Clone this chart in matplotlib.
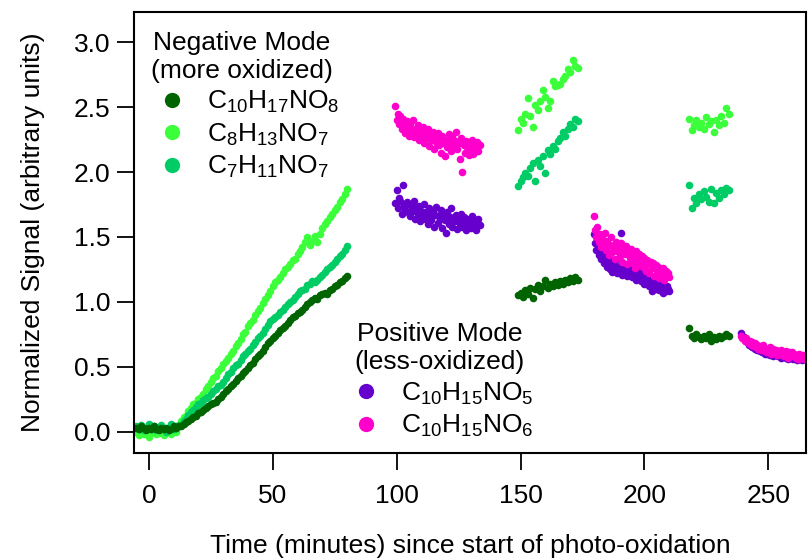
import numpy as np
import matplotlib
matplotlib.use("Agg")
import matplotlib.pyplot as plt
from matplotlib.lines import Line2D

plt.rcParams["font.family"] = ["Liberation Sans", "DejaVu Sans"]
plt.rcParams["mathtext.default"] = "regular"

# --- sampling times (minutes) of each measurement period ---
t_a = np.arange(-5, 81, 1.0)        # negative mode, start of run
t_b = np.arange(99.5, 134.0, 0.5)   # positive mode
t_c = np.arange(149, 174, 1.0)      # negative mode
t_d = np.arange(179.5, 210.5, 0.5)  # positive mode
t_e = np.arange(218, 235, 1.0)      # negative mode
t_f = np.arange(239, 267.5, 0.5)    # positive mode

# --- negative mode (more oxidized) ---
c10h17no8_a = [0.03, 0.02, 0.04, 0.03, 0.01, 0.03, 0.02, 0.04, 0.02, 0.01, 0.03, 0.02, 0.03, 0.01, 0.02, 0.04, 0.03, 0.04,
               0.04, 0.06, 0.07, 0.08, 0.10, 0.11, 0.12, 0.14, 0.15, 0.17,
               0.18, 0.20, 0.21, 0.22, 0.23, 0.25, 0.27, 0.29, 0.31, 0.33,
               0.35, 0.37, 0.39, 0.41, 0.43, 0.45, 0.47, 0.49, 0.51, 0.53,
               0.56, 0.58, 0.60, 0.62, 0.65, 0.68, 0.70, 0.72, 0.74, 0.76,
               0.78, 0.80, 0.81, 0.84, 0.86, 0.88, 0.89, 0.91, 0.92, 0.94,
               0.96, 0.98, 1.00, 1.01, 1.03, 1.02, 1.05, 1.06, 1.07, 1.06,
               1.09, 1.10, 1.12, 1.13, 1.15, 1.16, 1.18, 1.20]
c8h13no7_a = [0.00, -0.03, 0.02, -0.02, 0.01, -0.04, 0.00, 0.03, -0.02, -0.01, 0.02, -0.03, 0.00, 0.01, -0.02, 0.03, 0.00, 0.04,
              0.08, 0.11, 0.12, 0.16, 0.18, 0.21, 0.22, 0.25, 0.27, 0.29,
              0.33, 0.35, 0.38, 0.41, 0.43, 0.47, 0.49, 0.52, 0.54, 0.57,
              0.60, 0.62, 0.66, 0.68, 0.71, 0.75, 0.77, 0.81, 0.84, 0.86,
              0.90, 0.93, 0.95, 0.99, 1.02, 1.05, 1.08, 1.12, 1.15, 1.17,
              1.19, 1.22, 1.25, 1.27, 1.29, 1.32, 1.33, 1.37, 1.39, 1.42,
              1.46, 1.50, 1.44, 1.47, 1.51, 1.46, 1.52, 1.57, 1.60, 1.62,
              1.65, 1.68, 1.71, 1.73, 1.77, 1.79, 1.83, 1.87]
c7h11no7_a = [0.04, 0.02, 0.05, 0.01, 0.03, 0.06, 0.02, 0.04, 0.01, 0.03, 0.05, 0.02, 0.00, 0.03, 0.06, 0.02, 0.04, 0.05,
              0.05, 0.08, 0.10, 0.13, 0.15, 0.17, 0.19, 0.21, 0.22, 0.24,
              0.26, 0.27, 0.29, 0.31, 0.33, 0.35, 0.36, 0.38, 0.41, 0.44,
              0.46, 0.49, 0.51, 0.52, 0.55, 0.58, 0.60, 0.62, 0.64, 0.67,
              0.69, 0.72, 0.74, 0.76, 0.79, 0.82, 0.85, 0.87, 0.88, 0.90,
              0.92, 0.94, 0.96, 0.98, 1.00, 1.01, 1.04, 1.06, 1.08, 1.09,
              1.10, 1.13, 1.14, 1.16, 1.15, 1.17, 1.19, 1.21, 1.23, 1.25,
              1.27, 1.28, 1.31, 1.33, 1.35, 1.37, 1.40, 1.43]

c10h17no8_c = [1.05, 1.07, 1.04, 1.09, 1.06, 1.11, 1.03, 1.10, 1.13, 1.08, 1.12, 1.17, 1.11,
               1.14, 1.12, 1.15, 1.13, 1.16, 1.14, 1.17, 1.15, 1.18, 1.16, 1.19, 1.17]
c8h13no7_c = [2.32, 2.41, 2.38, 2.45, 2.57, 2.43, 2.35, 2.52, 2.48, 2.55, 2.63, 2.58, 2.49,
              2.55, 2.70, 2.66, 2.67, 2.68, 2.72, 2.74, 2.79, 2.77, 2.86, 2.82, 2.80]
c7h11no7_c = [1.89, 1.93, 1.96, 1.99, 1.97, 2.03, 2.07, 1.93, 2.09, 2.05, 2.12, 1.99, 2.17,
              2.14, 2.20, 2.18, 2.24, 2.26, 2.31, 2.28, 2.33, 2.37, 2.35, 2.41, 2.39]

c10h17no8_e = [0.80, 0.74, 0.72, 0.75, 0.73, 0.71, 0.74, 0.72, 0.75, 0.70, 0.73, 0.71, 0.74, 0.72, 0.74, 0.75, 0.74]
c8h13no7_e = [2.41, 2.32, 2.36, 2.40, 2.35, 2.38, 2.33, 2.42, 2.37, 2.39, 2.31, 2.40, 2.36, 2.43, 2.38, 2.49, 2.45]
c7h11no7_e = [1.90, 1.72, 1.80, 1.76, 1.83, 1.79, 1.85, 1.81, 1.77, 1.87, 1.76, 1.84, 1.80, 1.86, 1.83, 1.88, 1.86]

# --- positive mode (less oxidized) ---
c10h15no5_b = [1.76, 1.86, 1.72, 1.80, 1.78, 1.68, 1.90, 1.74, 1.71, 1.77,
               1.69, 1.75, 1.66, 1.73, 1.70, 1.78, 1.64, 1.72, 1.68, 1.74,
               1.62, 1.70, 1.67, 1.75, 1.64, 1.69, 1.60, 1.72, 1.66, 1.63,
               1.70, 1.58, 1.67, 1.73, 1.61, 1.66, 1.64, 1.71, 1.57, 1.68,
               1.63, 1.53, 1.69, 1.60, 1.65, 1.72, 1.58, 1.64, 1.62, 1.67,
               1.56, 1.63, 1.60, 1.68, 1.58, 1.65, 1.61, 1.55, 1.64, 1.59,
               1.62, 1.57, 1.66, 1.60, 1.63, 1.55, 1.61, 1.64, 1.59]
c10h15no6_b = [2.51, 2.40, 2.45, 2.37, 2.43, 2.33, 2.41, 2.36, 2.30, 2.39,
               2.34, 2.28, 2.37, 2.31, 2.40, 2.27, 2.33, 2.29, 2.36, 2.25,
               2.32, 2.27, 2.35, 2.22, 2.30, 2.26, 2.33, 2.20, 2.29, 2.25,
               2.31, 2.18, 2.27, 2.23, 2.30, 2.21, 2.26, 2.15, 2.28, 2.22,
               2.12, 2.25, 2.19, 2.29, 2.23, 2.16, 2.27, 2.20, 2.24, 2.31,
               2.18, 2.22, 2.10, 2.26, 2.00, 2.21, 2.15, 2.24, 2.19, 2.13,
               2.22, 2.17, 2.25, 2.14, 2.20, 2.18, 2.23, 2.16, 2.21]

c10h15no5_d = [1.52, 1.45, 1.40, 1.47, 1.36, 1.42, 1.33, 1.38, 1.30, 1.35,
               1.31, 1.27, 1.34, 1.25, 1.30, 1.23, 1.28, 1.25, 1.32, 1.22,
               1.27, 1.24, 1.53, 1.21, 1.26, 1.23, 1.29, 1.20, 1.25, 1.22,
               1.24, 1.19, 1.27, 1.21, 1.17, 1.23, 1.20, 1.25, 1.16, 1.22,
               1.18, 1.14, 1.21, 1.16, 1.19, 1.12, 1.17, 1.08, 1.15, 1.13,
               1.10, 1.16, 1.12, 1.09, 1.14, 1.11, 1.07, 1.13, 1.08, 1.12,
               1.10, 1.08]
c10h15no6_d = [1.66, 1.55, 1.50, 1.58, 1.46, 1.52, 1.42, 1.49, 1.44, 1.53,
               1.40, 1.47, 1.36, 1.44, 1.50, 1.38, 1.43, 1.33, 1.46, 1.39,
               1.42, 1.35, 1.45, 1.31, 1.40, 1.37, 1.43, 1.29, 1.38, 1.34,
               1.41, 1.30, 1.36, 1.26, 1.39, 1.33, 1.28, 1.37, 1.31, 1.35,
               1.27, 1.34, 1.24, 1.32, 1.29, 1.22, 1.31, 1.26, 1.30, 1.20,
               1.28, 1.23, 1.27, 1.18, 1.25, 1.21, 1.26, 1.17, 1.24, 1.20,
               1.22, 1.19]

c10h15no5_f = [0.76, 0.74, 0.73, 0.71, 0.70, 0.69, 0.67, 0.68, 0.66, 0.65,
               0.66, 0.64, 0.65, 0.63, 0.64, 0.62, 0.63, 0.61, 0.62, 0.60,
               0.62, 0.60, 0.61, 0.59, 0.62, 0.60, 0.58, 0.61, 0.59, 0.60,
               0.58, 0.60, 0.57, 0.59, 0.58, 0.60, 0.57, 0.58, 0.56, 0.59,
               0.57, 0.58, 0.56, 0.58, 0.57, 0.55, 0.58, 0.56, 0.57, 0.55,
               0.57, 0.56, 0.58, 0.55, 0.57, 0.56, 0.55]
c10h15no6_f = [0.74, 0.72, 0.71, 0.70, 0.72, 0.69, 0.68, 0.70, 0.67, 0.69,
               0.66, 0.68, 0.65, 0.67, 0.64, 0.66, 0.63, 0.65, 0.67, 0.62,
               0.64, 0.61, 0.63, 0.65, 0.60, 0.62, 0.64, 0.61, 0.63, 0.59,
               0.62, 0.60, 0.63, 0.59, 0.61, 0.58, 0.62, 0.60, 0.57, 0.61,
               0.59, 0.61, 0.58, 0.60, 0.57, 0.59, 0.56, 0.60, 0.58, 0.57,
               0.59, 0.56, 0.58, 0.57, 0.59, 0.56, 0.58]

neg_labels = [r"C$_{10}$H$_{17}$NO$_{8}$", r"C$_{8}$H$_{13}$NO$_{7}$", r"C$_{7}$H$_{11}$NO$_{7}$"]
pos_labels = [r"C$_{10}$H$_{15}$NO$_{5}$", r"C$_{10}$H$_{15}$NO$_{6}$"]
col_dark, col_light, col_teal = "#006400", "#3cff3c", "#00cc66"
col_purple, col_magenta = "#6600cc", "#ff00cc"

t_neg = np.concatenate([t_a, t_c, t_e])
t_pos = np.concatenate([t_b, t_d, t_f])
neg = {
    "c10h17no8": np.concatenate([c10h17no8_a, c10h17no8_c, c10h17no8_e]),
    "c8h13no7": np.concatenate([c8h13no7_a, c8h13no7_c, c8h13no7_e]),
    "c7h11no7": np.concatenate([c7h11no7_a, c7h11no7_c, c7h11no7_e]),
}
pos = {
    "c10h15no5": np.concatenate([c10h15no5_b, c10h15no5_d, c10h15no5_f]),
    "c10h15no6": np.concatenate([c10h15no6_b, c10h15no6_d, c10h15no6_f]),
}

FS = 19
fig = plt.figure(figsize=(8.09, 5.60), dpi=100)
ax = fig.add_axes([0.1656, 0.1911, 0.8307, 0.7875])

ms = 30
ax.scatter(t_neg, neg["c8h13no7"], s=ms, color=col_light, linewidths=0)
ax.scatter(t_neg, neg["c7h11no7"], s=ms, color=col_teal, linewidths=0)
ax.scatter(t_neg, neg["c10h17no8"], s=ms, color=col_dark, linewidths=0)
ax.scatter(t_pos, pos["c10h15no5"], s=ms, color=col_purple, linewidths=0)
ax.scatter(t_pos, pos["c10h15no6"], s=ms, color=col_magenta, linewidths=0)

ax.set_xlim(-6, 265.2)
ax.set_ylim(-0.165, 3.233)
ax.set_xticks([0, 50, 100, 150, 200, 250])
ax.set_yticks([0.0, 0.5, 1.0, 1.5, 2.0, 2.5, 3.0])
ax.set_yticklabels(["0.0", "0.5", "1.0", "1.5", "2.0", "2.5", "3.0"])
ax.tick_params(direction="out", length=12, width=1.3, labelsize=FS)
ax.tick_params(axis="x", pad=10)
ax.tick_params(axis="y", pad=5)
for sp in ax.spines.values():
    sp.set_linewidth(1.5)

ax.set_xlabel("Time (minutes) since start of photo-oxidation", fontsize=FS, labelpad=19)
ax.set_ylabel("Normalized Signal (arbitrary units)", fontsize=FS, labelpad=21)


def handle(c):
    return Line2D([], [], ls="", marker="o", markersize=11, color=c, markeredgewidth=0)


leg_kw = dict(frameon=False, fontsize=FS, title_fontsize=FS, loc="upper left",
              borderpad=0, borderaxespad=0, labelspacing=0.24)
leg1 = ax.legend([handle(col_dark), handle(col_light), handle(col_teal)], neg_labels,
                 title="Negative Mode\n(more oxidized)", bbox_to_anchor=(0.016, 0.957),
                 handlelength=2.05, handletextpad=0.3, **leg_kw)
leg1.get_title().set_multialignment("center")
ax.add_artist(leg1)
leg2 = ax.legend([handle(col_purple), handle(col_magenta)], pos_labels,
                 title="Positive Mode\n(less-oxidized)", bbox_to_anchor=(0.316, 0.296),
                 handlelength=1.5, handletextpad=0.57, **leg_kw)
leg2.get_title().set_multialignment("center")

fig.savefig("out.png", dpi=100)
